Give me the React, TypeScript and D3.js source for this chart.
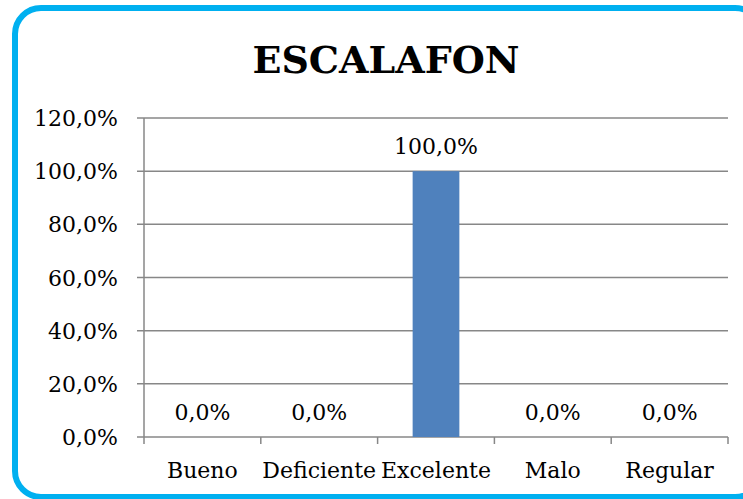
import React, { useEffect, useRef } from "react";
import * as d3 from "d3";

const categories = ["Bueno", "Deficiente", "Excelente", "Malo", "Regular"];
const values = [0, 0, 100, 0, 0];
const yTicks = [0, 20, 40, 60, 80, 100, 120];
const title = "ESCALAFON";

const W = 743;
const H = 499;

const fmt = (v: number) => v.toFixed(1).replace(".", ",") + "%";

const App = () => {
  const svgRef = useRef<SVGSVGElement>(null);

  useEffect(() => {
    const svg = d3.select(svgRef.current);
    svg.selectAll("*").remove();

    const font = "'DejaVu Serif', serif";
    const margin = { top: 118, right: 15, bottom: 62, left: 144 };
    const width = W - margin.left - margin.right;
    const height = H - margin.top - margin.bottom;

    // outer rounded frame, runs past the right/bottom edge of the picture
    svg
      .append("rect")
      .attr("x", 15)
      .attr("y", 8)
      .attr("width", 746)
      .attr("height", 489)
      .attr("rx", 26)
      .attr("fill", "#fff")
      .attr("stroke", "#00B0F0")
      .attr("stroke-width", 6);

    svg
      .append("text")
      .attr("x", 386)
      .attr("y", 73)
      .attr("text-anchor", "middle")
      .attr("font-family", font)
      .attr("font-weight", "bold")
      .attr("font-size", 38)
      .text(title);

    const g = svg
      .append("g")
      .attr("transform", `translate(${margin.left},${margin.top})`);

    const x = d3.scaleBand().domain(categories).range([0, width]).padding(0);
    const y = d3.scaleLinear().domain([0, 120]).range([height, 0]);

    // gridlines + left tick stubs
    g.selectAll(".grid")
      .data(yTicks)
      .join("line")
      .attr("x1", -7)
      .attr("x2", width)
      .attr("y1", (d) => y(d))
      .attr("y2", (d) => y(d))
      .attr("stroke", "#878787")
      .attr("stroke-width", 1.5);

    g.selectAll(".ylab")
      .data(yTicks)
      .join("text")
      .attr("x", -26)
      .attr("y", (d) => y(d) + 8)
      .attr("text-anchor", "end")
      .attr("font-family", font)
      .attr("font-size", 22)
      .text((d) => fmt(d));

    const barW = x.bandwidth() * 0.4;
    g.selectAll(".bar")
      .data(values)
      .join("rect")
      .attr("x", (_, i) => x(categories[i])! + (x.bandwidth() - barW) / 2)
      .attr("y", (d) => y(d))
      .attr("width", barW)
      .attr("height", (d) => height - y(d))
      .attr("fill", "#4F81BD");

    g.selectAll(".vlab")
      .data(values)
      .join("text")
      .attr("x", (_, i) => x(categories[i])! + x.bandwidth() / 2)
      .attr("y", (d) => y(d) - 17)
      .attr("text-anchor", "middle")
      .attr("font-family", font)
      .attr("font-size", 22)
      .text((d) => fmt(d));

    // axes
    g.append("line")
      .attr("x1", 0)
      .attr("x2", 0)
      .attr("y1", 0)
      .attr("y2", height)
      .attr("stroke", "#878787")
      .attr("stroke-width", 1.5);

    const bounds = [0, ...categories.map((c) => x(c)! + x.bandwidth())];
    g.selectAll(".xtick")
      .data(bounds)
      .join("line")
      .attr("x1", (d) => d)
      .attr("x2", (d) => d)
      .attr("y1", height)
      .attr("y2", height + 7)
      .attr("stroke", "#878787")
      .attr("stroke-width", 1.5);

    g.selectAll(".xlab")
      .data(categories)
      .join("text")
      .attr("x", (d) => x(d)! + x.bandwidth() / 2)
      .attr("y", height + 41)
      .attr("text-anchor", "middle")
      .attr("font-family", font)
      .attr("font-size", 22)
      .text((d) => d);
  }, []);

  return (
    <svg
      ref={svgRef}
      width={W}
      height={H}
      style={{
        position: "absolute",
        left: 0,
        top: 0,
        background: "#fff",
        overflow: "hidden",
      }}
    />
  );
};

export default App;
